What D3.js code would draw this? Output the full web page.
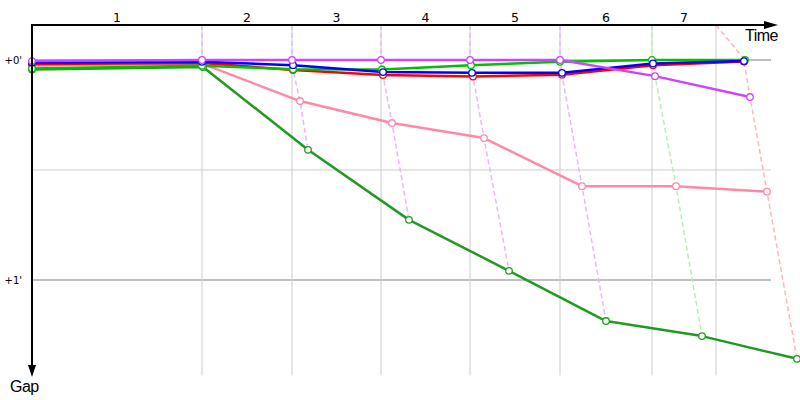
<!DOCTYPE html>
<html>
<head>
<meta charset="utf-8">
<script src="https://cdn.jsdelivr.net/npm/d3@7"></script>
<style>
  html, body { margin: 0; padding: 0; background: #fff; }
  svg { display: block; font-family: "Liberation Sans", Arial, sans-serif; }
</style>
</head>
<body>
<svg id="chart" width="800" height="400"></svg>
<script>
// ---- data (time in seconds, gap in seconds behind leader) ----
const laps = ["1", "2", "3", "4", "5", "6", "7"];
const lapTimes = [255, 390, 523.5, 657, 792, 930, 1026];          // reference time at end of each lap
const lapColors = ["#e9b6ff", "#e9b6ff", "#e9b6ff", "#e9b6ff", "#e9b6ff", "#b6efb6", "#ffb6b6"];
const gapTicks = [0, 30, 60];
const gapTickLabels = ["+0'", "", "+1'"];

const racers = ["pink", "darkgreen", "red", "green", "blue", "violet"];
const racerColors = ["#ff88a8", "#229a22", "#ff0000", "#00c000", "#0000ff", "#cc44ff"];

const pinkTimes      = [0, 255, 402, 540, 678, 825, 966, 1102.5];
const pinkGaps       = [1.5, 1.0, 11.2, 17.2, 21.3, 34.4, 34.4, 35.9];
const darkgreenTimes = [0, 256.5, 414, 565.5, 715.5, 861, 1005, 1147.5];
const darkgreenGaps  = [2.6, 1.9, 24.5, 43.6, 57.5, 71.2, 75.3, 81.5];
const redTimes       = [0, 255, 391.5, 526.5, 661.5, 795, 931.5, 1068];
const redGaps        = [1.1, 0.8, 2.7, 4.1, 4.5, 4.0, 1.4, 0.4];
const greenTimes     = [0, 255, 391.5, 525, 658.5, 792, 930, 1069.5];
const greenGaps      = [2.3, 1.6, 2.5, 2.6, 1.4, 0.5, 0, 0];
const blueTimes      = [0, 255, 391.5, 526.5, 660, 795, 931.5, 1068];
const blueGaps       = [0.7, 0.5, 1.4, 3.3, 3.5, 3.5, 0.95, 0.3];
const violetTimes    = [0, 255, 390, 523.5, 657, 792, 934.5, 1077];
const violetGaps     = [0.3, 0, 0, 0, 0, 0, 4.4, 10.1];

const seriesTimes = [pinkTimes, darkgreenTimes, redTimes, greenTimes, blueTimes, violetTimes];
const seriesGaps  = [pinkGaps, darkgreenGaps, redGaps, greenGaps, blueGaps, violetGaps];

// ---- layout ----
const svg = d3.select("#chart");
const x0 = 32, axisY = 25;
const x = d3.scaleLinear().domain([0, 1155]).range([x0, 802]);
const y = d3.scaleLinear().domain([0, 60]).range([60, 280]);
const tEnd = 1108.5;   // right end of gridlines
const gEnd = 86;       // bottom end of lap gridlines

const series = racers.map((name, i) => ({
  name, color: racerColors[i],
  pts: seriesTimes[i].map((t, k) => ({ t, g: seriesGaps[i][k], lap: k }))
}));

// horizontal gridlines
svg.append("g").selectAll("line").data(gapTicks).join("line")
  .attr("x1", x(0)).attr("x2", x(tEnd))
  .attr("y1", d => y(d)).attr("y2", d => y(d))
  .attr("stroke", (d, i) => gapTickLabels[i] ? "#808080" : "#cccccc")
  .attr("stroke-width", 1);

// vertical lap gridlines
svg.append("g").selectAll("line").data(lapTimes).join("line")
  .attr("x1", d => x(d)).attr("x2", d => x(d))
  .attr("y1", axisY).attr("y2", y(gEnd))
  .attr("stroke", "#ccc").attr("stroke-width", 1);

// dashed lap connectors
const lapLines = lapTimes.map((lt, li) => {
  const pts = series.map(s => s.pts[li + 1]).slice().sort((a, b) => a.g - b.g)
    .map(p => [x(p.t), y(p.g)]);
  return { color: lapColors[li], pts: [[x(lt), axisY]].concat(pts) };
});
svg.append("g").selectAll("path").data(lapLines).join("path")
  .attr("d", d => d3.line()(d.pts))
  .attr("fill", "none").attr("stroke", d => d.color)
  .attr("stroke-width", 1.5).attr("stroke-dasharray", "5,3");

// series lines
const line = d3.line().x(d => x(d.t)).y(d => y(d.g));
svg.append("g").selectAll("path").data(series).join("path")
  .attr("d", d => line(d.pts))
  .attr("fill", "none").attr("stroke", d => d.color)
  .attr("stroke-width", 2.5).attr("stroke-linejoin", "round");

// markers
svg.append("g").selectAll("g").data(series).join("g")
  .each(function (s) {
    d3.select(this).selectAll("circle").data(s.pts).join("circle")
      .attr("cx", d => x(d.t)).attr("cy", d => y(d.g)).attr("r", 3.3)
      .attr("fill", "#fff").attr("stroke", s.color).attr("stroke-width", 1.3);
  });

// axes
const arrowLen = 10, arrowHalf = 4;
const xAxisEnd = 778, yAxisEnd = 377;
svg.append("line").attr("x1", x0).attr("x2", xAxisEnd - arrowLen + 1)
  .attr("y1", axisY).attr("y2", axisY).attr("stroke", "#000").attr("stroke-width", 2);
svg.append("path")
  .attr("d", `M${xAxisEnd},${axisY} L${xAxisEnd - arrowLen - 4},${axisY - arrowHalf} L${xAxisEnd - arrowLen - 4},${axisY + arrowHalf} Z`)
  .attr("fill", "#000");
svg.append("line").attr("x1", x0).attr("x2", x0)
  .attr("y1", axisY - 1).attr("y2", yAxisEnd - arrowLen + 1).attr("stroke", "#000").attr("stroke-width", 2);
svg.append("path")
  .attr("d", `M${x0},${yAxisEnd} L${x0 - arrowHalf},${yAxisEnd - arrowLen - 2} L${x0 + arrowHalf},${yAxisEnd - arrowLen - 2} Z`)
  .attr("fill", "#000");

// lap labels (centred between lap boundaries)
const bounds = [0].concat(lapTimes);
svg.append("g").selectAll("text").data(laps).join("text")
  .attr("x", (d, i) => (x(bounds[i]) + x(bounds[i + 1])) / 2)
  .attr("y", 22).attr("text-anchor", "middle")
  .attr("font-family", "DejaVu Sans, Verdana, sans-serif")
  .attr("font-size", 12.5).attr("fill", "#000").text(d => d);

// gap tick labels
svg.append("g").selectAll("text").data(gapTicks).join("text")
  .attr("x", 22).attr("y", d => y(d) + 4).attr("text-anchor", "end")
  .attr("font-family", "DejaVu Sans, Verdana, sans-serif")
  .attr("font-size", 10).attr("fill", "#000")
  .text((d, i) => gapTickLabels[i]);

// axis titles
svg.append("text").attr("x", 778).attr("y", 41).attr("text-anchor", "end")
  .attr("font-size", 16).attr("letter-spacing", -0.5).attr("fill", "#000").text("Time");
svg.append("text").attr("x", 10).attr("y", 392)
  .attr("font-size", 16).attr("letter-spacing", -0.5).attr("fill", "#000").text("Gap");
</script>
</body>
</html>
